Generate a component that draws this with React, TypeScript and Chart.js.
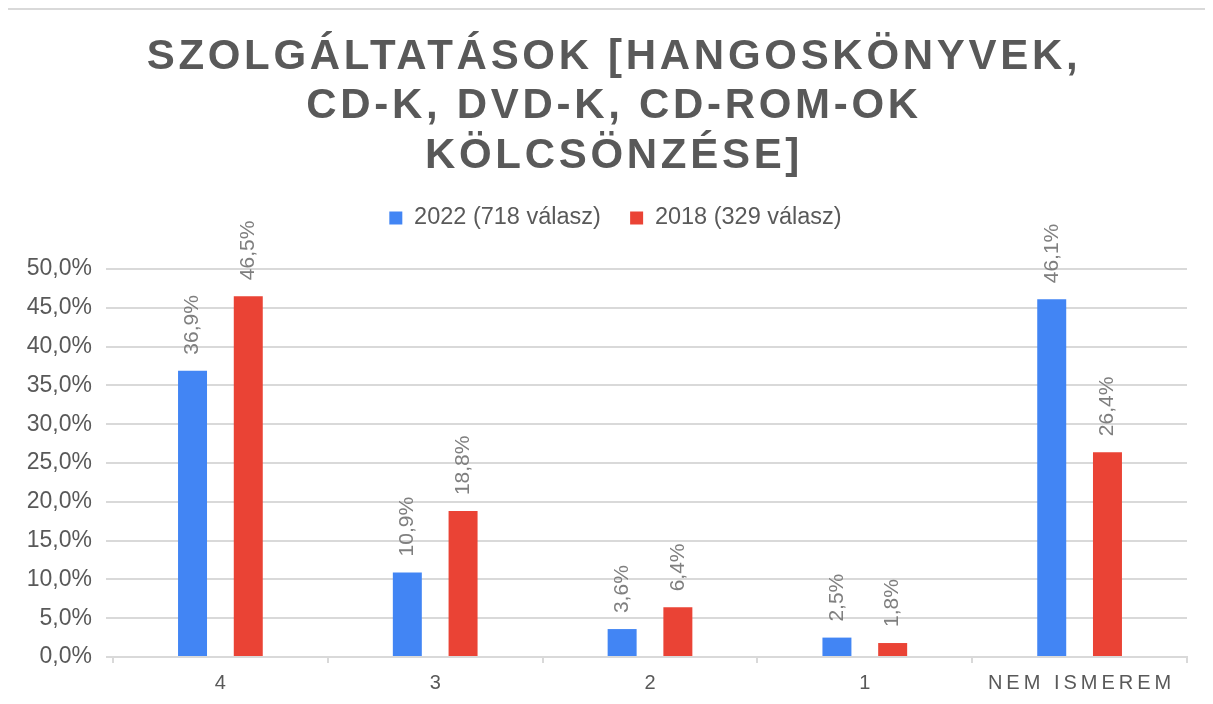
import React, { useEffect, useRef } from 'react';
import { Chart, registerables } from 'chart.js';

Chart.register(...registerables);

const TITLE_LINES = ['SZOLGÁLTATÁSOK [HANGOSKÖNYVEK,', 'CD-K, DVD-K, CD-ROM-OK', 'KÖLCSÖNZÉSE]'];
const CATEGORIES = ['4', '3', '2', '1', 'NEM ISMEREM'];
const SERIES_NAMES = ['2022 (718 válasz)', '2018 (329 válasz)'];
const SERIES_2022 = [36.9, 10.9, 3.6, 2.5, 46.1];
const SERIES_2018 = [46.5, 18.8, 6.4, 1.8, 26.4];
const Y_MIN = 0;
const Y_MAX = 50;
const Y_STEP = 5;

const FONT = '"Liberation Sans", Arial, Helvetica, sans-serif';
const TEXT_COLOR = '#595959';
const LABEL_COLOR = '#7f7f7f';
const GRID_COLOR = '#d9d9d9';
const BLUE = '#4285F4';
const RED = '#EA4335';

const fmt = (v: number) => v.toFixed(1).replace('.', ',') + '%';

const LEGEND_EXTRA = 29.25;
const LEGEND_SHIFT = 18;

const legendTweak = {
  id: 'legendTweak',
  beforeLayout(chart: any) {
    const lg = chart.legend;
    if (lg && !lg.__patched) {
      const orig = lg.fit;
      lg.fit = function () {
        orig.call(this);
        this.height += LEGEND_EXTRA;
      };
      lg.__patched = true;
    }
  },
  afterLayout(chart: any) {
    const lg = chart.legend;
    if (lg) {
      lg.left += LEGEND_SHIFT;
      lg.right += LEGEND_SHIFT;
    }
  },
};

const spacedTitle = {
  id: 'spacedTitle',
  afterDraw(chart: any) {
    const ctx = chart.ctx as CanvasRenderingContext2D;
    ctx.save();
    ctx.font = `bold 42px ${FONT}`;
    ctx.fillStyle = TEXT_COLOR;
    ctx.textAlign = 'center';
    ctx.textBaseline = 'alphabetic';
    (ctx as any).letterSpacing = '3.7px';
    const cx = chart.width / 2 + 4;
    TITLE_LINES.forEach((line, i) => ctx.fillText(line, cx, 58.5 + i * 49.5));
    (ctx as any).letterSpacing = '0px';
    ctx.restore();
  },
};

const spacedXLabels = {
  id: 'spacedXLabels',
  afterDraw(chart: any) {
    const ctx = chart.ctx as CanvasRenderingContext2D;
    const xs = chart.scales.x;
    ctx.save();
    ctx.font = `20px ${FONT}`;
    ctx.fillStyle = TEXT_COLOR;
    ctx.textAlign = 'center';
    ctx.textBaseline = 'alphabetic';
    (ctx as any).letterSpacing = '4px';
    CATEGORIES.forEach((c, i) => {
      ctx.fillText(c, xs.getPixelForTick(i) + 2, xs.top + 31.5);
    });
    (ctx as any).letterSpacing = '0px';
    ctx.restore();
  },
};

const barLabels = {
  id: 'barLabels',
  afterDatasetsDraw(chart: any) {
    const ctx = chart.ctx as CanvasRenderingContext2D;
    chart.data.datasets.forEach((ds: any, di: number) => {
      const meta = chart.getDatasetMeta(di);
      meta.data.forEach((bar: any, i: number) => {
        const v = ds.data[i] as number;
        ctx.save();
        ctx.translate(bar.x, bar.y - 16);
        ctx.rotate(-Math.PI / 2);
        ctx.font = `21px ${FONT}`;
        ctx.fillStyle = LABEL_COLOR;
        ctx.textAlign = 'left';
        ctx.textBaseline = 'middle';
        ctx.fillText(fmt(v), 0, 0);
        ctx.restore();
      });
    });
  },
};

export default function App() {
  const ref = useRef<HTMLCanvasElement | null>(null);

  useEffect(() => {
    if (!ref.current) return;
    const chart = new Chart(ref.current, {
      type: 'bar',
      data: {
        labels: CATEGORIES,
        datasets: [
          {
            label: SERIES_NAMES[0],
            data: SERIES_2022,
            backgroundColor: BLUE,
            borderWidth: 0,
            categoryPercentage: 0.519,
            barPercentage: 0.52,
          },
          {
            label: SERIES_NAMES[1],
            data: SERIES_2018,
            backgroundColor: RED,
            borderWidth: 0,
            categoryPercentage: 0.519,
            barPercentage: 0.52,
          },
        ],
      },
      options: {
        responsive: false,
        animation: false,
        layout: { padding: { top: 167, right: 25, left: 0, bottom: 0 } },
        plugins: {
          title: { display: false },
          tooltip: { enabled: false },
          legend: {
            position: 'top',
            labels: {
              boxWidth: 13,
              boxHeight: 13,
              padding: 29.25,
              color: TEXT_COLOR,
              font: { size: 23.5, family: FONT },
            },
          },
        },
        scales: {
          x: {
            grid: {
              display: true,
              offset: true,
              drawOnChartArea: false,
              drawTicks: true,
              tickLength: 6,
              color: GRID_COLOR,
              lineWidth: 2,
            },
            border: { display: true, color: GRID_COLOR, width: 2 },
            ticks: {
              color: 'rgba(0,0,0,0)',
              font: { size: 20, family: FONT },
              maxRotation: 0,
              autoSkip: false,
            },
            afterFit: (s: any) => {
              s.height = 47;
            },
          },
          y: {
            min: Y_MIN,
            max: Y_MAX,
            ticks: {
              stepSize: Y_STEP,
              callback: (v: any) => fmt(Number(v)),
              color: TEXT_COLOR,
              font: { size: 23, family: FONT },
              padding: 14,
            },
            grid: { color: GRID_COLOR, lineWidth: 2, tickLength: 7, drawTicks: true },
            border: { display: false },
            afterFit: (s: any) => {
              s.width = 105;
            },
          },
        },
      },
      plugins: [legendTweak, barLabels, spacedTitle, spacedXLabels],
    } as any);
    return () => chart.destroy();
  }, []);

  return (
    <div
      style={{
        marginLeft: -2,
        marginBottom: -8,
        width: 1206,
        height: 696,
        boxSizing: 'border-box',
        borderTop: `2px solid ${GRID_COLOR}`,
        borderLeft: `2px solid ${GRID_COLOR}`,
        background: '#fff',
        overflow: 'hidden',
      }}
    >
      <canvas ref={ref} width={1204} height={694} style={{ display: 'block' }} />
    </div>
  );
}
